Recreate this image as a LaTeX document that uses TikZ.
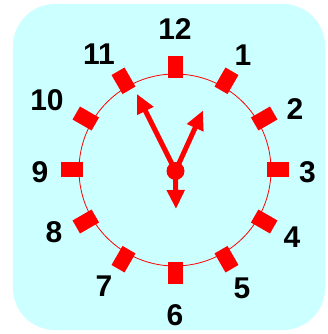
\documentclass[tikz,border=0pt]{standalone}
\usepackage{fontspec}
\setmainfont{Liberation Sans}
\usetikzlibrary{arrows.meta}
\definecolor{dialbg}{RGB}{204,255,255}
\definecolor{clockred}{RGB}{255,0,0}

\begin{document}
\begin{tikzpicture}[x=1pt,y=1pt,
 num/.style={font=\fontsize{30}{30}\selectfont\bfseries,inner sep=0pt},
 hand/.style={line width=5pt,draw=clockred,-{Triangle[length=19pt,width=17pt]}}]
\useasboundingbox (-175,-164) rectangle (152,170);
\fill[dialbg,rounded corners=42pt] (-162,-160) rectangle (150,166);
\draw[clockred,line width=0.8pt] (0,0) circle (96);
% ticks
\foreach \a in {0,30,...,330}
  \fill[clockred,rotate=\a] (92,-7.5) rectangle (114,7.5);
% numbers
\node[num] (n12) at (0,141) {12};
\node[num] (n1) at (68,115) {1};
\node[num] (n2) at (120,61) {2};
\node[num] (n3) at (132.5,-2.5) {3};
\node[num] (n4) at (117,-67) {4};
\node[num] (n5) at (67,-118) {5};
\node[num] (n6) at (0,-145) {6};
\node[num] (n7) at (-71,-116) {7};
\node[num] (n8) at (-121,-62) {8};
\node[num] (n9) at (-135,-2.5) {9};
\node[num] (n10) at (-128,69.5) {10};
\node[num] (n11) at (-76,116) {11};
% hands
\coordinate (hub) at (0.5,-1);
\coordinate (tipmin) at (-38,76);
\coordinate (tiphr) at (28,59.5);
\coordinate (tipsec) at (1,-39);
\draw[hand] (hub) -- (tipmin);
\draw[hand] (hub) -- (tiphr);
\draw[hand] (hub) -- (tipsec);
\fill[clockred] (hub) circle (9);
\end{tikzpicture}
\end{document}
